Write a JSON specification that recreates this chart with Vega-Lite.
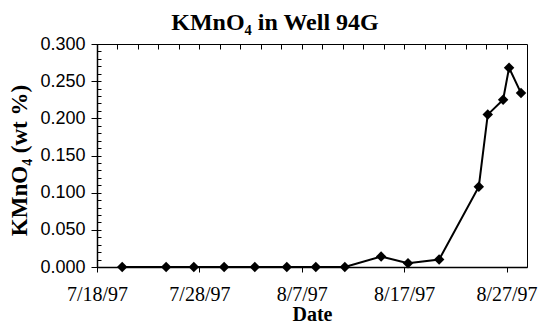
{
  "$schema": "https://vega.github.io/schema/vega-lite/v6.json",
  "width": 430,
  "height": 223,
  "autosize": "none",
  "padding": {"left": 97, "top": 44, "right": 15, "bottom": 65},
  "background": "white",
  "title": {
    "text": "KMnO₄ in Well 94G",
    "font": "Liberation Serif",
    "fontSize": 24,
    "fontWeight": "bold",
    "color": "black",
    "anchor": "middle",
    "dx": -37,
    "offset": 0
  },
  "config": {
    "view": {"stroke": "black", "strokeWidth": 1},
    "axis": {"domainColor": "black", "tickColor": "black", "labelColor": "black", "titleColor": "black", "domainWidth": 1.5, "tickWidth": 1}
  },
  "data": {
    "values": [
      {"date": "1997-07-20T11:00:00", "kmno4": 0.0},
      {"date": "1997-07-24T18:00:00", "kmno4": 0.0},
      {"date": "1997-07-27T11:00:00", "kmno4": 0.0},
      {"date": "1997-07-30T10:00:00", "kmno4": 0.0},
      {"date": "1997-08-02T10:00:00", "kmno4": 0.0},
      {"date": "1997-08-05T13:00:00", "kmno4": 0.0},
      {"date": "1997-08-08T09:00:00", "kmno4": 0.0},
      {"date": "1997-08-11T05:00:00", "kmno4": 0.0},
      {"date": "1997-08-14T18:00:00", "kmno4": 0.014},
      {"date": "1997-08-17T09:00:00", "kmno4": 0.005},
      {"date": "1997-08-20T10:00:00", "kmno4": 0.010},
      {"date": "1997-08-24T07:00:00", "kmno4": 0.108},
      {"date": "1997-08-25T04:00:00", "kmno4": 0.205},
      {"date": "1997-08-26T16:00:00", "kmno4": 0.225},
      {"date": "1997-08-27T06:00:00", "kmno4": 0.268},
      {"date": "1997-08-28T10:00:00", "kmno4": 0.234}
    ]
  },
  "mark": {"type": "line", "color": "black", "strokeWidth": 2, "point": {"shape": "diamond", "filled": true, "size": 110, "color": "black"}},
  "encoding": {
    "x": {
      "field": "date", "type": "temporal",
      "scale": {"domain": [{"year": 1997, "month": 7, "date": 18}, {"year": 1997, "month": 8, "date": 29}]},
      "axis": {
        "orient": "bottom",
        "values": [
          {"year": 1997, "month": 7, "date": 18},
          {"year": 1997, "month": 7, "date": 20}, {"year": 1997, "month": 7, "date": 22},
          {"year": 1997, "month": 7, "date": 24}, {"year": 1997, "month": 7, "date": 26},
          {"year": 1997, "month": 7, "date": 28}, {"year": 1997, "month": 7, "date": 30},
          {"year": 1997, "month": 8, "date": 1}, {"year": 1997, "month": 8, "date": 3},
          {"year": 1997, "month": 8, "date": 5}, {"year": 1997, "month": 8, "date": 7},
          {"year": 1997, "month": 8, "date": 9}, {"year": 1997, "month": 8, "date": 11},
          {"year": 1997, "month": 8, "date": 13}, {"year": 1997, "month": 8, "date": 15},
          {"year": 1997, "month": 8, "date": 17}, {"year": 1997, "month": 8, "date": 19},
          {"year": 1997, "month": 8, "date": 21}, {"year": 1997, "month": 8, "date": 23},
          {"year": 1997, "month": 8, "date": 25}, {"year": 1997, "month": 8, "date": 27}
        ],
        "labelExpr": "round((datum.value - datetime(1997, 6, 18)) / 86400000) % 10 == 0 ? timeFormat(datum.value, '%-m/%-d/%y') : ''",
        "tickOpacity": {"condition": {"test": "round((datum.value - datetime(1997, 6, 18)) / 86400000) % 10 == 0", "value": 1}, "value": 0},
        "grid": true, "gridColor": "black", "gridOpacity": 1, "gridWidth": 1, "gridDash": [5, 2000],
        "labelFont": "Liberation Serif", "labelFontSize": 20,
        "labelFlush": false, "labelOverlap": false,
        "tickSize": 5, "labelPadding": 12,
        "title": "Date", "titleFont": "Liberation Serif", "titleFontSize": 20, "titleFontWeight": "bold", "titlePadding": 0
      }
    },
    "y": {
      "field": "kmno4", "type": "quantitative",
      "scale": {"domain": [0, 0.3], "nice": false},
      "axis": {
        "orient": "left",
        "values": [0, 0.01, 0.02, 0.03, 0.04, 0.05, 0.06, 0.07, 0.08, 0.09, 0.1, 0.11, 0.12, 0.13, 0.14, 0.15, 0.16, 0.17, 0.18, 0.19, 0.2, 0.21, 0.22, 0.23, 0.24, 0.25, 0.26, 0.27, 0.28, 0.29, 0.3],
        "labelExpr": "abs(datum.value * 20 - round(datum.value * 20)) < 0.001 ? format(datum.value, '.3f') : ''",
        "tickOpacity": {"condition": {"test": "abs(datum.value * 20 - round(datum.value * 20)) < 0.001", "value": 1}, "value": 0},
        "grid": true, "gridColor": "black", "gridOpacity": 1, "gridWidth": 1, "gridDash": [4, 2000],
        "labelFont": "Liberation Sans", "labelFontSize": 18,
        "tickSize": 6, "labelPadding": 6,
        "title": "KMnO₄ (wt %)", "titleFont": "Liberation Serif", "titleFontSize": 23, "titleFontWeight": "bold",
        "titleAngle": -90, "titleX": -78, "titleY": 116, "titleAlign": "center", "titleBaseline": "middle"
      }
    }
  }
}
